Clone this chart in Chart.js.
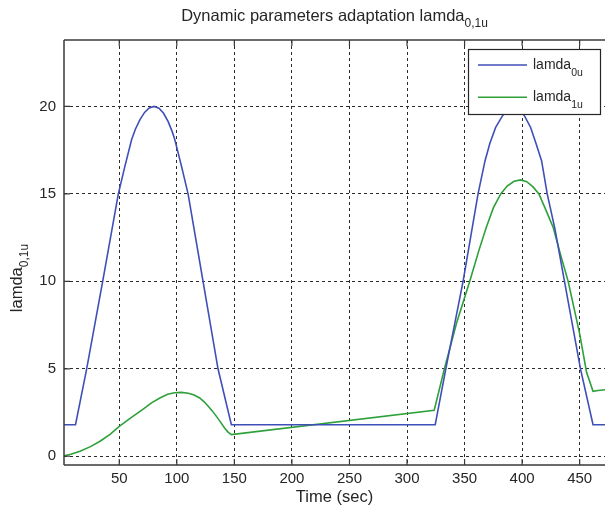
<!DOCTYPE html>
<html><head><meta charset="utf-8">
<script src="https://cdn.jsdelivr.net/npm/chart.js@4.4.1/dist/chart.umd.min.js"></script>
<style>html,body{margin:0;padding:0;background:#fff}#wrap{width:605px;height:510px;position:relative}</style>
</head><body><div id="wrap"><canvas id="c"></canvas></div>
<script>
// ---- data ----
const lamda0X = [2, 12, 21.7, 35.6, 49.2, 55, 60.7, 64, 68, 72, 76, 80.3, 84.5, 88.5, 92.5, 96, 98.3, 104, 109.8, 122.8, 135.8, 147.4,
                 324.5, 333.7, 348.7, 361.7, 367.8, 372, 377, 382.8, 387.5, 392.5, 397.5, 402.2, 407.4, 412, 416.9, 421.8, 428.5, 436.8, 450.7, 461.6, 472];
const lamda0Y = [1.8, 1.8, 5, 10, 15, 16.6, 18.1, 18.7, 19.25, 19.66, 19.91, 20, 19.9, 19.61, 19.13, 18.56, 18.1, 16.6, 15, 10, 5, 1.8,
                 1.8, 5, 10, 15, 16.9, 17.9, 18.8, 19.45, 19.85, 20, 19.85, 19.45, 18.8, 17.9, 16.9, 15, 13.0, 10, 5, 1.8, 1.8];
const lamda1X = [2, 8, 15.9, 25, 33.3, 42, 50, 60, 70.8, 78, 85.3, 92, 98, 104, 110, 115, 119.9, 124, 127.5, 131, 134.4, 138, 141.5, 144.5, 147.4,
                 323.6, 332.5, 343, 354.5, 362.6, 368.9, 375, 381.4, 387, 393, 398.7, 404, 409.5, 414.6, 420.5, 426.9, 433.5, 440, 450, 456, 461.6, 466, 472];
const lamda1Y = [0.02, 0.12, 0.29, 0.55, 0.86, 1.25, 1.71, 2.2, 2.7, 3.05, 3.33, 3.54, 3.63, 3.65, 3.6, 3.5, 3.33, 3.1, 2.85, 2.58, 2.28, 1.95, 1.62, 1.38, 1.24,
                 2.63, 5, 7.6, 10, 11.8, 13.1, 14.2, 15, 15.45, 15.72, 15.8, 15.7, 15.4, 15, 14.1, 13.1, 11.5, 10, 7.0, 4.8, 3.71, 3.76, 3.8];
const xTicks = [50, 100, 150, 200, 250, 300, 350, 400, 450];
const yTicks = [0, 5, 10, 15, 20];
const xMin = 2, xMax = 472, yMin = -0.5, yMax = 23.8;
const seriesNames = ['lamda', 'lamda'];
const seriesSubs = ['0u', '1u'];
const titleMain = 'Dynamic parameters adaptation lamda', titleSub = '0,1u';
const yLabelMain = 'lamda', yLabelSub = '0,1u';
const xLabel = 'Time (sec)';

const FONT = '"Liberation Sans", Arial, sans-serif';
const TXT = '#262626';
const colors = ['#3f4fb8', '#2ea03a'];

function drawSub(ctx, main, sub, x, y, size, subSize, drop) {
  ctx.font = size + 'px ' + FONT;
  const w1 = ctx.measureText(main).width;
  ctx.fillText(main, x, y);
  ctx.font = subSize + 'px ' + FONT;
  ctx.fillText(sub, x + w1, y + drop);
}
function subWidth(ctx, main, sub, size, subSize) {
  ctx.font = size + 'px ' + FONT;
  const w1 = ctx.measureText(main).width;
  ctx.font = subSize + 'px ' + FONT;
  return w1 + ctx.measureText(sub).width;
}

const decor = {
  id: 'decor',
  afterDraw(chart) {
    const ctx = chart.ctx, a = chart.chartArea, xs = chart.scales.x, ys = chart.scales.y;
    ctx.save();
    // axes box
    ctx.strokeStyle = '#3a3a3a'; ctx.lineWidth = 1.5; ctx.setLineDash([]);
    ctx.beginPath();
    ctx.moveTo(a.left, a.top); ctx.lineTo(a.right, a.top);
    ctx.moveTo(a.left, a.top); ctx.lineTo(a.left, a.bottom);
    ctx.moveTo(a.left, a.bottom); ctx.lineTo(a.right, a.bottom);
    ctx.stroke();
    // inside tick marks
    ctx.lineWidth = 1.2;
    ctx.beginPath();
    xTicks.forEach(v => { const p = xs.getPixelForValue(v);
      ctx.moveTo(p, a.bottom); ctx.lineTo(p, a.bottom - 6);
      ctx.moveTo(p, a.top); ctx.lineTo(p, a.top + 6); });
    yTicks.forEach(v => { const p = ys.getPixelForValue(v);
      ctx.moveTo(a.left, p); ctx.lineTo(a.left + 6, p); });
    ctx.stroke();
    // title
    ctx.fillStyle = TXT; ctx.textBaseline = 'alphabetic'; ctx.textAlign = 'left';
    const tw = subWidth(ctx, titleMain, titleSub, 16.5, 12);
    drawSub(ctx, titleMain, titleSub, (a.left + a.right) / 2 - tw / 2, 20.5, 16.5, 12, 6);
    // y label (rotated)
    ctx.save();
    ctx.translate(22, 0);
    ctx.rotate(-Math.PI / 2);
    const yw = subWidth(ctx, yLabelMain, yLabelSub, 16.5, 12);
    drawSub(ctx, yLabelMain, yLabelSub, -(278 + yw / 2), 0, 16.5, 12, 6);
    ctx.restore();
    // legend
    const L = 468, T = 49, R = 601, B = 115;
    ctx.fillStyle = '#fff'; ctx.fillRect(L, T, R - L, B - T);
    ctx.strokeStyle = '#262626'; ctx.lineWidth = 1.2;
    ctx.strokeRect(L + 0.5, T + 0.5, R - L - 1, B - T - 1);
    const rows = [65, 97.3];
    rows.forEach((ry, i) => {
      ctx.strokeStyle = colors[i]; ctx.lineWidth = 1.6;
      ctx.beginPath(); ctx.moveTo(478, ry); ctx.lineTo(527, ry); ctx.stroke();
      ctx.fillStyle = TXT;
      drawSub(ctx, seriesNames[i], seriesSubs[i], 533, ry + 3.5, 14, 10.5, 7.5);
    });
    ctx.restore();
  }
};

const mk = (xs, ys) => xs.map((x, i) => ({ x: x, y: ys[i] }));

new Chart(document.getElementById('c'), {
  type: 'scatter',
  data: { datasets: [
    { label: 'lamda0u', data: mk(lamda0X, lamda0Y), showLine: true, borderColor: colors[0], borderWidth: 1.6, pointRadius: 0, tension: 0, fill: false },
    { label: 'lamda1u', data: mk(lamda1X, lamda1Y), showLine: true, borderColor: colors[1], borderWidth: 1.6, pointRadius: 0, tension: 0, fill: false }
  ]},
  options: {
    responsive: true, maintainAspectRatio: false, animation: false,
    layout: { padding: { top: 40, right: 0, left: 0, bottom: 0 } },
    plugins: { legend: { display: false }, title: { display: false }, tooltip: { enabled: false } },
    scales: {
      x: {
        type: 'linear', min: xMin, max: xMax,
        afterBuildTicks: s => { s.ticks = xTicks.map(v => ({ value: v })); },
        afterFit: s => { s.height = 45; },
        grid: { color: '#2a2a2a', lineWidth: 1, drawTicks: false },
        border: { display: false, dash: [3, 3] },
        ticks: { color: TXT, font: { family: FONT, size: 15 }, padding: 5, maxRotation: 0, autoSkip: false },
        title: { display: true, text: xLabel, color: TXT, font: { family: FONT, size: 16.5 }, padding: { top: 0, bottom: 3 } }
      },
      y: {
        type: 'linear', min: yMin, max: yMax,
        afterBuildTicks: s => { s.ticks = yTicks.map(v => ({ value: v })); },
        afterFit: s => { s.width = 64; },
        grid: { color: '#2a2a2a', lineWidth: 1, drawTicks: false },
        border: { display: false, dash: [3, 3] },
        ticks: { color: TXT, font: { family: FONT, size: 15 }, padding: 8, autoSkip: false }
      }
    }
  },
  plugins: [decor]
});
</script>
</body></html>
